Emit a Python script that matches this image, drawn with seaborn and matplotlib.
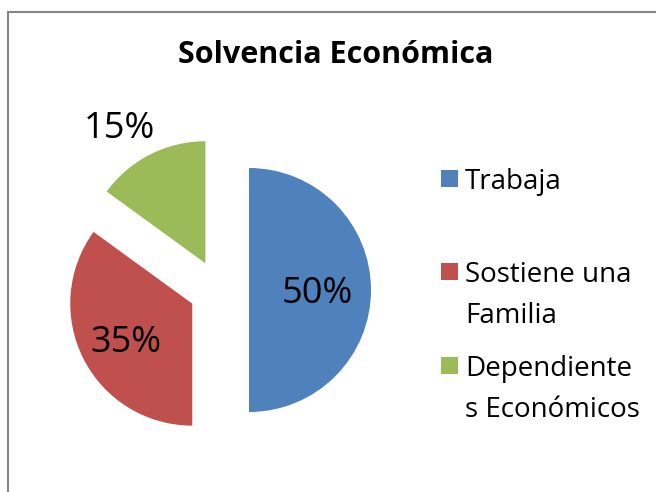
import matplotlib
matplotlib.use("Agg")
import matplotlib.pyplot as plt
import seaborn as sns
import numpy as np
from matplotlib.patches import Rectangle

categories = ["Trabaja", "Sostiene una\nFamilia", "Dependiente\ns Económicos"]
values = [50, 35, 15]
title = "Solvencia Económica"

sns.set_theme(style="white")
plt.rcParams['font.family'] = ['Open Sans', 'DejaVu Sans']

colors = ["#4F81BD", "#C0504D", "#9BBB59"]

W, H = 656, 492
fig = plt.figure(figsize=(W / 100, H / 100), dpi=100)
fig.patch.set_facecolor("white")

# chart border (gray frame, cropped at right/bottom)
fig.add_artist(Rectangle((8 / W, -0.05), 1.2, (H - 12) / H + 0.05,
                         transform=fig.transFigure, fill=False,
                         edgecolor="#868686", linewidth=1.5))

ax = fig.add_axes([0, 0, 1, 1])
ax.set_facecolor("none")
R = 122.0
cx, cy = 219.0, 290.0
wedges, texts, autotexts = ax.pie(values, startangle=90, counterclock=False,
                                  colors=colors, explode=[0.246] * len(values),
                                  autopct="%1.0f%%", pctdistance=0.57,
                                  textprops=dict(fontsize=26, color="black"),
                                  wedgeprops=dict(linewidth=0))
ax.set_xlim(-cx / R, (W - cx) / R)
ax.set_ylim(-(H - cy) / R, cy / R)
ax.set_aspect("auto")
ax.axis("off")

# label placement (inside for big slices, outside for the small one)
label_dist = [0.56, 0.62, 1.33]
angle_shift = [0, 1, 5]
for w, t, d, s in zip(wedges, autotexts, label_dist, angle_shift):
    mid = np.deg2rad((w.theta1 + w.theta2) / 2 + s)
    t.set_position((w.center[0] + d * np.cos(mid), w.center[1] + d * np.sin(mid) - 0.03))

fig.text(336 / W, 1 - 55 / H, title, ha="center", va="center",
         fontsize=22, fontweight="bold", color="black")

# legend
leg_y = [178, 271, 365]
for i, (lab, col) in enumerate(zip(categories, colors)):
    y = leg_y[i]
    fig.add_artist(Rectangle((441 / W, 1 - (y + 9) / H), 17 / W, 17 / H,
                             transform=fig.transFigure, facecolor=col, edgecolor="none"))
    fig.text(465 / W, 1 - (y - 10) / H, lab, ha="left", va="top",
             fontsize=20, color="black", linespacing=1.6)

fig.savefig("out.png", dpi=100)
